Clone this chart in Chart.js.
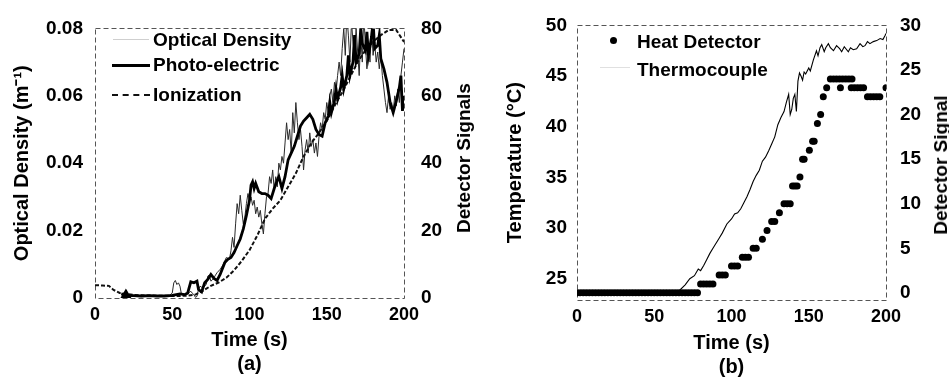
<!DOCTYPE html>
<html><head><meta charset="utf-8">
<script src="https://cdn.jsdelivr.net/npm/chart.js@4"></script>
<style>
html,body{margin:0;padding:0;background:#fff;overflow:hidden;width:949px;height:386px;}
#wrap{position:relative;width:949px;height:386px;overflow:hidden;}
canvas{position:absolute;top:0;}
#ca{left:0;}
#cb{left:480px;}
.lg{position:absolute;font:bold 19px "Liberation Sans",Arial,sans-serif;color:#000;line-height:22px;white-space:nowrap;}
.rt{position:absolute;font:bold 19px "Liberation Sans",Arial,sans-serif;color:#000;line-height:22px;white-space:nowrap;transform:translate(-50%,-50%) rotate(-90deg);}
.ln{position:absolute;height:0;}
.dot{position:absolute;width:7px;height:7px;border-radius:50%;background:#000;}
</style></head><body>
<div id="wrap">
<canvas id="ca" width="480" height="386"></canvas>
<canvas id="cb" width="475" height="386"></canvas>

<div class="ln" style="left:113px;top:39px;width:36px;border-top:1px solid #cfcfcf;"></div>
<div class="lg" style="left:153px;top:29px;">Optical Density</div>
<div class="ln" style="left:112px;top:64px;width:38px;border-top:3px solid #000;"></div>
<div class="lg" style="left:153px;top:54px;">Photo-electric</div>
<div class="ln" style="left:112px;top:94px;width:38px;border-top:2px dashed #111;"></div>
<div class="lg" style="left:153px;top:84px;">Ionization</div>
<div class="rt" style="left:464px;top:158px;">Detector Signals</div>

<div class="dot" style="left:610px;top:37px;"></div>
<div class="lg" style="left:637px;top:31px;">Heat Detector</div>
<div class="ln" style="left:600px;top:67px;width:30px;border-top:1px solid #e0e0e0;"></div>
<div class="lg" style="left:637px;top:59px;">Thermocouple</div>
<div class="rt" style="left:941px;top:165px;">Detector Signal</div>
</div>
<script>
// ---------- (a) data ----------
const ionTime = [0,5,9,12,16,20,25,30,40,50,55,60,65,70,75,80,85,90,95,100,105,110,115,120,125,130,135,140,145,150,155,160,165,170,175,180,185,190,195,200];
const ionSignal = [3.8,3.7,3.6,2.4,1.5,1.2,0.9,0.8,0.7,0.6,0.6,0.7,1.0,2.2,3.6,4.6,6.0,8.2,11.0,14.2,18.5,23.5,26.5,29.0,33.0,37.0,42.0,46.0,49.0,52.5,57.0,61.0,65.5,70.0,73.5,76.0,78.0,79.5,79.5,76.0];

const peTime = [17,20,25,30,35,40,45,50,55,58,60,62,64,66,67,69,71,73,75,77,79,81,84,86,88,90,92,94,96,98,100,101,102,103,104,106,108,110,112,114,116,118,119,121,123,125,127,129,131,133,135,137,139,141,143,145,147,149,151,152,153,155,156,157,159,160,161,163,164,165,167,168,169,171,172,173,175,176,177,179,180,181,183,184,185,187,189,191,193,195,197,198,199,200];
const peSignal = [1.2,0.8,0.7,0.6,0.7,0.6,0.6,0.8,1.2,1.0,1.5,4.8,4.5,5.0,2.5,1.8,4.5,5.5,7.0,5.8,5.2,7.0,10.5,11.5,12.0,13.5,15.5,17.5,20.5,24.5,29.0,33.5,34.5,32.5,34.0,31.5,31.0,31.0,30.5,29.5,32.5,35.0,36.0,32.5,36.0,41.0,43.0,45.0,48.0,51.0,52.5,53.5,54.5,53.0,50.0,48.5,48.0,52.0,54.0,58.0,55.0,58.5,62.0,59.0,62.5,66.0,62.0,66.0,72.0,66.0,70.0,78.0,70.0,72.5,80.0,75.5,73.5,79.0,72.0,77.5,82.0,74.0,75.0,78.0,71.0,68.0,64.0,58.0,55.0,58.5,62.5,66.0,55.5,60.0];

const odTime = [20,30,40,48,50,51,52,53,54,55,56,57,58,59,60,61,62,63,64,65,66,67,68,69,70,71,72,73,74,75,76,77,78,79,80,81,82,83,84,85,86,87,88,89,90,91,92,93,94,95,96,97,98,99,100,101,102,103,104,105,106,107,108,109,110,111,112,113,114,115,116,117,118,119,120,121,122,123,124,125,126,127,128,129,130,131,132,133,134,135,136,137,138,139,140,141,142,143,144,145,146,147,148,149,150,151,152,153,154,155,156,157,158,159,160,161,162,163,164,165,166,167,168,169,170,171,172,173,174,175,176,177,178,179,180,181,182,183,184,185,186,187,188,189,190,191,192,193,194,195,196,197,198,199,200];
const odValue = [0.0005,0.0004,0.0005,0.0006,0.0015,0.0045,0.0052,0.0040,0.0045,0.0035,0.0010,0.0009,0.0008,0.0010,0.0012,0.0016,0.0020,0.0014,0.0010,0.0002,0.0005,0.0025,0.0035,0.0032,0.0030,0.0036,0.0040,0.0065,0.0068,0.0050,0.0054,0.0060,0.0068,0.0075,0.0080,0.0085,0.0092,0.0100,0.0110,0.0120,0.0118,0.0115,0.0140,0.0180,0.0150,0.0220,0.0280,0.0250,0.0305,0.0260,0.0220,0.0240,0.0280,0.0310,0.0290,0.0300,0.0275,0.0290,0.0250,0.0270,0.0240,0.0260,0.0220,0.0190,0.0250,0.0300,0.0310,0.0360,0.0340,0.0380,0.0320,0.0360,0.0330,0.0400,0.0380,0.0420,0.0400,0.0460,0.0520,0.0470,0.0500,0.0430,0.0550,0.0490,0.0580,0.0520,0.0470,0.0500,0.0450,0.0380,0.0440,0.0470,0.0430,0.0490,0.0450,0.0470,0.0430,0.0460,0.0420,0.0480,0.0520,0.0500,0.0550,0.0530,0.0580,0.0550,0.0600,0.0620,0.0580,0.0640,0.0610,0.0660,0.0700,0.0660,0.0740,0.0800,0.0720,0.0840,0.0780,0.0700,0.0820,0.0760,0.0720,0.0800,0.0730,0.0660,0.0780,0.0700,0.0840,0.0750,0.0680,0.0740,0.0700,0.0800,0.0720,0.0760,0.0700,0.0730,0.0680,0.0720,0.0660,0.0620,0.0580,0.0550,0.0600,0.0560,0.0580,0.0550,0.0600,0.0570,0.0620,0.0580,0.0660,0.0700,0.0740];

const timeTicksA = [0,50,100,150,200];
const odTicks = [0,0.02,0.04,0.06,0.08];
const detTicksA = [0,20,40,60,80];

// ---------- (b) data ----------
const heatTime = [0,2,4,6,8,10,12,14,16,18,20,22,24,26,28,30,32,34,36,38,40,42,44,46,48,50,52,54,56,58,60,62,64,66,68,70,72,74,76,78,
  80,82,84,86,88,92,94,96,100,102,104,107,109,111,114,116,120,123,126,128,131,134,136,138,139.5,141,142.5,144.3,146,147,150.4,152.5,153.5,155.6,157.7,159.4,161.6,
  164,166,168,170,172,174,176,178,170.5,177.5,179.5,181.5,183.5,185.5,188,190,192,194,196,200];
const heatSignal = [0,0,0,0,0,0,0,0,0,0,0,0,0,0,0,0,0,0,0,0,0,0,0,0,0,0,0,0,0,0,0,0,0,0,0,0,0,0,0,0,
  1,1,1,1,1,2,2,2,3,3,3,4,4,4,5,5,6,7,8,8,9,10,10,10,12,12,12,13,15,15,16,17,17,19,20,22,23,
  24,24,24,24,24,24,24,24,23,23,23,23,23,23,22,22,22,22,22,23];

const tcTime = [0,10,20,30,40,50,60,66,70,73,76,78.5,80,82,84,86,88,90,92,94,97,100,102,104,106,108,110,112,114,116,118,120,122,124,126,128,130,132,134,135.5,137,138,139,140,141,142,143,144,145,146,147,148,150,151,153,155,156,157.3,158.4,160,161,162.7,164,166,168,170,171.3,173,175.6,177,178.8,181,183.2,185,186.4,188,189.6,191.8,194,196.2,198,199.4,200];
const tcTemp = [23.7,23.7,23.7,23.7,23.7,23.7,23.7,23.8,24.4,25.0,25.3,25.95,25.8,26.3,26.9,27.5,28.0,28.5,29.0,29.5,30.4,30.9,31.4,31.5,31.9,32.5,33.1,33.8,34.6,35.2,35.7,36.6,37.0,37.6,38.3,39.0,40.2,40.9,41.5,42.4,43.2,41.2,41.7,42.8,43.2,41.5,44.5,45.3,45.0,44.6,45.4,45.2,45.8,45.5,46.6,47.5,47.0,47.8,48.1,47.4,47.8,48.2,47.8,47.5,48.0,47.7,47.4,47.9,47.4,47.8,47.6,47.7,48.2,47.9,48.0,48.4,48.2,48.4,48.5,48.7,48.6,49.0,49.2];

const tempTicks = [25,30,35,40,45,50];
const detTicksB = [0,5,10,15,20,25,30];

// ---------- helpers ----------
const xy = (xs, ys) => xs.map((x, i) => ({x: x, y: ys[i]}));
const FONT = '"Liberation Sans", Arial, sans-serif';
Chart.defaults.font.family = FONT;
Chart.defaults.font.weight = 'bold';
Chart.defaults.font.size = 18;
Chart.defaults.color = '#000';

const framePlugin = {
  id: 'frame',
  beforeDatasetsDraw(chart) {
    const {ctx, chartArea: {left, top, right, bottom}} = chart;
    ctx.save();
    ctx.strokeStyle = '#555';
    ctx.lineWidth = 1;
    ctx.setLineDash([5, 3]);
    ctx.strokeRect(Math.round(left) + 0.5, Math.round(top) + 0.5, Math.round(right - left), Math.round(bottom - top));
    ctx.restore();
  }
};
const fixTicks = list => scale => { scale.ticks = list.map(v => ({value: v})); };
const YT = {size: 19, weight: 'bold'};
const XT = {size: 18, weight: 'bold'};
const NOGRID = {display: false, drawTicks: false};

// ---------- chart (a) ----------
new Chart(document.getElementById('ca'), {
  type: 'scatter',
  data: {
    datasets: [
      {label: 'Photo-electric', data: xy(peTime, peSignal), yAxisID: 'y1', showLine: true,
       borderColor: '#000', borderWidth: 2.8, backgroundColor: '#000',
       pointRadius: c => (c.dataIndex === 1 ? 4 : 0), pointStyle: 'triangle', order: 1},
      {label: 'Ionization', data: xy(ionTime, ionSignal), yAxisID: 'y1', showLine: true,
       borderColor: '#111', borderWidth: 2, borderDash: [4, 2], pointRadius: 0, order: 2},
      {label: 'Optical Density', data: xy(odTime, odValue), yAxisID: 'y', showLine: true,
       borderColor: '#2a2a2a', borderWidth: 1, pointRadius: 0, order: 3}
    ]
  },
  options: {
    responsive: false, animation: false, events: [],
    layout: {padding: {top: 15, left: 0, right: 0, bottom: 0}},
    plugins: {legend: {display: false}, tooltip: {enabled: false}},
    scales: {
      x: {type: 'linear', position: 'bottom', min: 0, max: 200,
          afterBuildTicks: fixTicks(timeTicksA),
          ticks: {padding: 6, font: XT},
          grid: NOGRID, border: {display: false},
          title: {display: true, text: ['Time (s)', '(a)'], font: {size: 20, weight: 'bold', lineHeight: 1.2}, padding: {top: 0, bottom: 10}},
          afterFit: s => { s.height = 88; }},
      y: {type: 'linear', position: 'left', min: 0, max: 0.08,
          afterBuildTicks: fixTicks(odTicks),
          ticks: {padding: 12, font: YT, callback: v => (v === 0 ? '0' : v.toFixed(2))},
          grid: NOGRID, border: {display: false},
          title: {display: true, text: 'Optical Density (m\u207B\u00B9)', font: {size: 20, weight: 'bold', lineHeight: 1.2}, padding: {top: 10, bottom: 0}},
          afterFit: s => { s.width = 95; }},
      y1: {type: 'linear', position: 'right', min: 0, max: 80,
          afterBuildTicks: fixTicks(detTicksA),
          ticks: {padding: 17, font: YT},
          grid: NOGRID, border: {display: false},
          title: {display: false},
          afterFit: s => { s.width = 76; }}
    }
  },
  plugins: [framePlugin]
});

// ---------- chart (b) ----------
new Chart(document.getElementById('cb'), {
  type: 'scatter',
  data: {
    datasets: [
      {label: 'Heat Detector', data: xy(heatTime, heatSignal), yAxisID: 'y1', showLine: false,
       pointRadius: 3.5, backgroundColor: '#000', borderWidth: 0, order: 1},
      {label: 'Thermocouple', data: xy(tcTime, tcTemp), yAxisID: 'y', showLine: true,
       borderColor: '#000', borderWidth: 1.1, pointRadius: 0, order: 2}
    ]
  },
  options: {
    responsive: false, animation: false, events: [],
    layout: {padding: {top: 16, left: 0, right: 0, bottom: 0}},
    plugins: {legend: {display: false}, tooltip: {enabled: false}},
    scales: {
      x: {type: 'linear', position: 'bottom', min: 0, max: 200,
          afterBuildTicks: fixTicks(timeTicksA),
          ticks: {padding: 6, font: XT},
          grid: NOGRID, border: {display: false},
          title: {display: true, text: ['Time (s)', '(b)'], font: {size: 20, weight: 'bold', lineHeight: 1.2}, padding: {top: 0, bottom: 7}},
          afterFit: s => { s.height = 86; }},
      y: {type: 'linear', position: 'left', min: 22.9, max: 50,
          afterBuildTicks: fixTicks(tempTicks),
          ticks: {padding: 10, font: YT},
          grid: NOGRID, border: {display: false},
          title: {display: true, text: 'Temperature (\u00B0C)', font: {size: 20, weight: 'bold', lineHeight: 1.2}, padding: {top: 23, bottom: 0}},
          afterFit: s => { s.width = 97; }},
      y1: {type: 'linear', position: 'right', min: -0.8, max: 30,
          afterBuildTicks: fixTicks(detTicksB),
          ticks: {padding: 14, font: YT},
          grid: NOGRID, border: {display: false},
          title: {display: false},
          afterFit: s => { s.width = 69; }}
    }
  },
  plugins: [framePlugin]
});
</script>
</body></html>
